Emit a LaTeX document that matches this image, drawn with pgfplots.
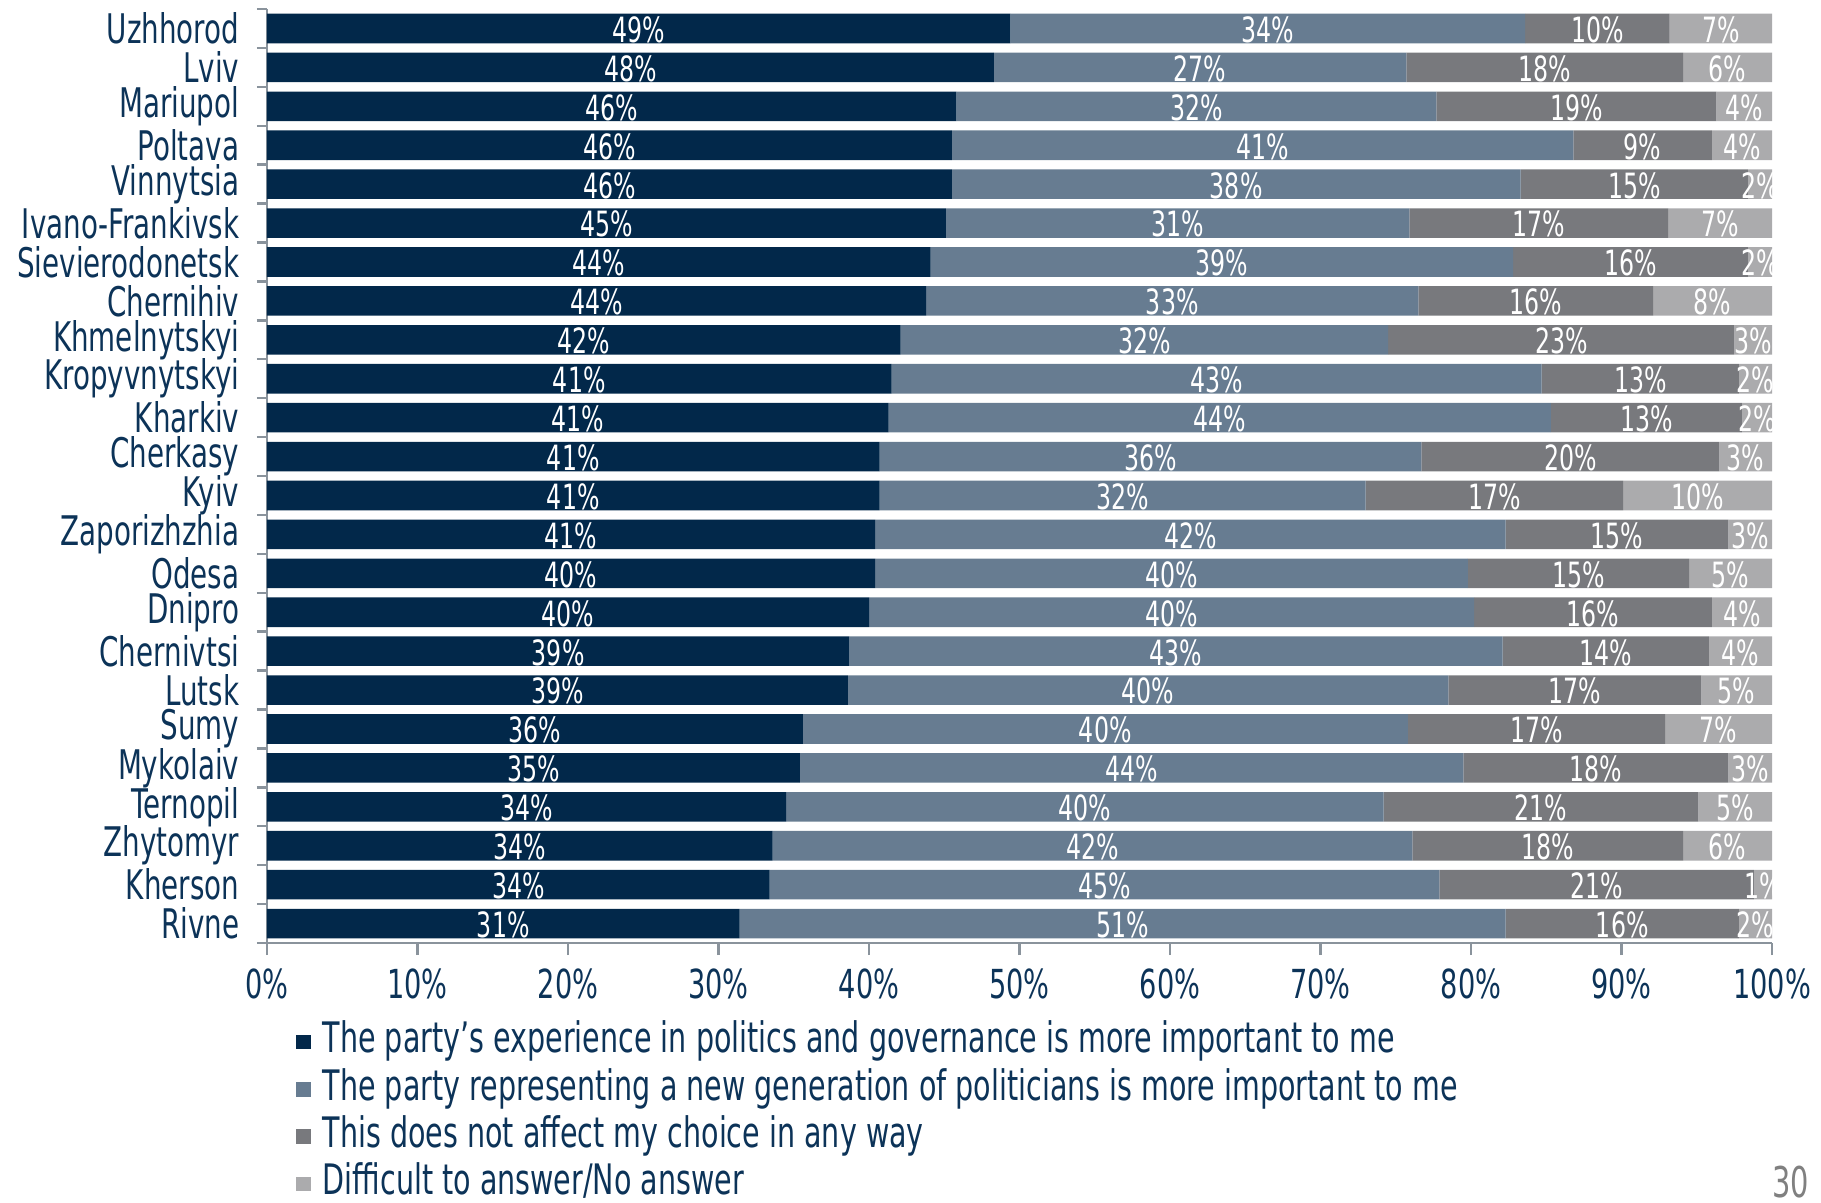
\documentclass[border=0pt]{standalone}
\usepackage{fontspec}
\setmainfont{DejaVu Sans}[FakeStretch=0.68]
\usepackage{pgfplots}
\usepackage{pgfplotstable}
\pgfplotsset{compat=1.18}
\definecolor{c1}{HTML}{02284A}
\definecolor{c2}{HTML}{677C91}
\definecolor{c3}{HTML}{78797D}
\definecolor{c4}{HTML}{ABABAD}
\definecolor{navy}{HTML}{0C3358}
\definecolor{axgray}{HTML}{8A939C}
\pgfplotstableread{
idx a b c d la lb lc ld
0 49.4 34.2 9.6 6.8 49 34 10 7
1 48.3 27.4 18.4 5.9 48 27 18 6
2 45.8 31.9 18.6 3.7 46 32 19 4
3 45.5 41.3 9.2 4.0 46 41 9 4
4 45.5 37.8 15.1 1.6 46 38 15 2
5 45.1 30.8 17.2 6.9 45 31 17 7
6 44.1 38.7 15.6 1.6 44 39 16 2
7 43.8 32.7 15.6 7.9 44 33 16 8
8 42.1 32.4 23.0 2.5 42 32 23 3
9 41.5 43.2 13.1 2.2 41 43 13 2
10 41.3 44.0 12.7 2.0 41 44 13 2
11 40.7 36.0 19.8 3.5 41 36 20 3
12 40.7 32.3 17.1 9.9 41 32 17 10
13 40.4 41.9 14.8 2.9 41 42 15 3
14 40.4 39.4 14.7 5.5 40 40 15 5
15 40.0 40.2 15.8 4.0 40 40 16 4
16 38.7 43.4 13.7 4.2 39 43 14 4
17 38.6 39.9 16.8 4.7 39 40 17 5
18 35.6 40.2 17.1 7.1 36 40 17 7
19 35.4 44.1 17.6 2.9 35 44 18 3
20 34.5 39.7 20.9 4.9 34 40 21 5
21 33.6 42.5 18.0 5.9 34 42 18 6
22 33.4 44.5 20.9 1.2 34 45 21 1
23 31.4 50.9 15.5 2.2 31 51 16 2
}\datatable
\begin{document}
\begin{tikzpicture}
\useasboundingbox (0,0) rectangle (455.25pt,300.5pt);
\begin{axis}[
  at={(66.75pt,64.75pt)}, anchor=south west,
  scale only axis, width=376.25pt, height=233.5pt,
  xbar stacked, bar width=7.4pt,
  xmin=0, xmax=100, ymin=-0.5, ymax=23.5, y dir=reverse,
  axis x line*=bottom, axis y line*=left,
  axis line style={axgray, line width=0.6pt},
  clip=false,
  xtick={0,10,...,100},
  xticklabels={0\%,10\%,20\%,30\%,40\%,50\%,60\%,70\%,80\%,90\%,100\%},
  xtick style={axgray, line width=0.6pt},
  x tick label style={font=\fontsize{10}{12}\selectfont, text=navy, yshift=0pt},
  major tick length=3pt,
  tick align=outside,
  ytick={0,...,23},
  yticklabels={Uzhhorod,Lviv,Mariupol,Poltava,Vinnytsia,Ivano-Frankivsk,Sievierodonetsk,Chernihiv,Khmelnytskyi,Kropyvnytskyi,Kharkiv,Cherkasy,Kyiv,Zaporizhzhia,Odesa,Dnipro,Chernivtsi,Lutsk,Sumy,Mykolaiv,Ternopil,Zhytomyr,Kherson,Rivne},
  ytick style={draw=none},
  y tick label style={font=\fontsize{10.2}{12}\selectfont, text=navy, xshift=-0.4pt},
  extra y ticks={-0.5,0.5,...,23.5},
  extra y tick labels={},
  extra y tick style={ytick style={axgray, line width=0.6pt, draw=axgray}, major tick length=2.5pt},
  legend style={at={(rel axis cs:0.019,-0.080)}, anchor=north west, draw=none, fill=none,
    font=\fontsize{10.5}{12}\selectfont, text=navy, row sep=0pt, inner sep=0pt,
    nodes={text height=7.6pt, text depth=2.2pt, inner sep=1pt},
    /tikz/every odd column/.append style={column sep=2pt}},
  legend cell align=left,
  legend image code/.code={\fill[#1] (0pt,-1.8pt) rectangle (3.6pt,1.8pt);},
  nodes near coords={\pgfplotspointmeta\%},
  point meta=explicit symbolic,
  every node near coord/.append style={font=\fontsize{8.7}{10}\selectfont, text=white, anchor=center, inner sep=0pt, yshift=-0.3pt},
]
\addplot[fill=c1, draw=none] table[x=a, y=idx, meta=la] {\datatable};
\addplot[fill=c2, draw=none] table[x=b, y=idx, meta=lb] {\datatable};
\addplot[fill=c3, draw=none] table[x=c, y=idx, meta=lc] {\datatable};
\addplot[fill=c4, draw=none] table[x=d, y=idx, meta=ld] {\datatable};
\legend{The party’s experience in politics and governance is more important to me,
The party representing a new generation of politicians is more important to me,
This does not affect my choice in any way,
Difficult to answer/No answer}
\end{axis}
\node[anchor=south east, inner sep=0pt, text=gray, font=\fontsize{10.6}{12}\selectfont] at (452.5pt,0.8pt) {30};
\end{tikzpicture}
\end{document}
